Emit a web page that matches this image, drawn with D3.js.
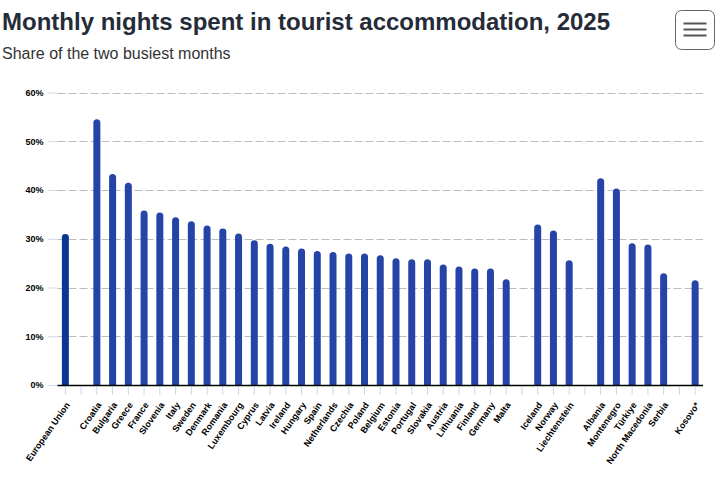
<!DOCTYPE html>
<html>
<head>
<meta charset="utf-8">
<script src="https://cdn.jsdelivr.net/npm/d3@7"></script>
<style>
  body { margin: 0; background: #fff; }
  text { font-family: "Liberation Sans", Arial, sans-serif; }
</style>
</head>
<body>
<div id="container"></div>
<script>
/* CONSTANTS AND GLOBALS */
const width = 720,
  height = 493;

// empty strings are the gaps between country groups
const categories = ["European Union", "",
  "Croatia", "Bulgaria", "Greece", "France", "Slovenia", "Italy", "Sweden", "Denmark",
  "Romania", "Luxembourg", "Cyprus", "Latvia", "Ireland", "Hungary", "Spain", "Netherlands",
  "Czechia", "Poland", "Belgium", "Estonia", "Portugal", "Slovakia", "Austria", "Lithuania",
  "Finland", "Germany", "Malta", "",
  "Iceland", "Norway", "Liechtenstein", "",
  "Albania", "Montenegro", "Türkiye", "North Macedonia", "Serbia", "",
  "Kosovo*"];

const values = [31.0, null,
  54.5, 43.3, 41.5, 35.8, 35.4, 34.4, 33.6, 32.7,
  32.1, 31.1, 29.7, 29.0, 28.4, 28.0, 27.5, 27.3,
  27.0, 27.0, 26.6, 26.0, 25.8, 25.8, 24.7, 24.3,
  23.9, 23.9, 21.7, null,
  32.9, 31.7, 25.6, null,
  42.4, 40.3, 29.1, 28.8, 22.9, null,
  21.5];

const yTicks = [0, 10, 20, 30, 40, 50, 60];

const plot = { left: 57.5, right: 703, top: 92.5, bottom: 385 };

const data = categories.map((c, i) => ({ key: i, name: c, value: values[i] }));

/* SCALES */
const xScale = d3.scaleBand()
  .domain(data.map(d => d.key))
  .range([plot.left, plot.right]);

const yScale = d3.scaleLinear()
  .domain([0, 60])
  .range([plot.bottom, plot.top]);

/* SVG */
const svg = d3.select("#container")
  .append("svg")
  .attr("width", width)
  .attr("height", height);

// Title and subtitle
svg.append("text")
  .attr("x", 2)
  .attr("y", 29.5)
  .attr("fill", "#262b38")
  .style("font-size", "24px")
  .style("font-weight", "bold")
  .text("Monthly nights spent in tourist accommodation, 2025");

svg.append("text")
  .attr("x", 2)
  .attr("y", 58.5)
  .attr("fill", "#333")
  .style("font-size", "16px")
  .text("Share of the two busiest months");

// Menu button
const menu = svg.append("g");
menu.append("rect")
  .attr("x", 675.5).attr("y", 10.5)
  .attr("width", 39).attr("height", 39)
  .attr("rx", 6)
  .attr("fill", "#fff")
  .attr("stroke", "#666")
  .attr("stroke-width", 1);
menu.selectAll("line")
  .data([23.5, 29.5, 35.5])
  .join("line")
  .attr("x1", 683.5).attr("x2", 706.5)
  .attr("y1", d => d).attr("y2", d => d)
  .attr("stroke", "#555")
  .attr("stroke-width", 2);

// Gridlines
svg.append("g")
  .selectAll("line")
  .data(yTicks.filter(d => d > 0))
  .join("line")
  .attr("x1", plot.left)
  .attr("x2", plot.right)
  .attr("y1", d => Math.round(yScale(d)) + 0.5)
  .attr("y2", d => Math.round(yScale(d)) + 0.5)
  .attr("stroke", "#bdbdbd")
  .attr("stroke-dasharray", "8,3");

// Y axis
const yAxis = d3.axisLeft(yScale)
  .tickValues(yTicks)
  .tickSize(9)
  .tickPadding(5)
  .tickFormat(d => d + "%");

svg.append("g")
  .attr("transform", `translate(${plot.left},0)`)
  .call(yAxis)
  .call(g => g.select(".domain").remove())
  .call(g => g.selectAll(".tick line").attr("stroke", "#ccd6eb"))
  .call(g => g.selectAll(".tick text")
    .attr("fill", "#000")
    .style("font-size", "9px")
    .style("font-weight", "bold")
    .style("font-family", "'Liberation Sans', Arial, sans-serif"));

// Bars with rounded tops
const bw = 7, r = 3.5;
svg.append("g")
  .selectAll("path")
  .data(data.filter(d => d.value !== null))
  .join("path")
  .attr("d", d => {
    const cx = xScale(d.key) + xScale.bandwidth() / 2;
    const x0 = cx - bw / 2, x1 = cx + bw / 2;
    const yb = yScale(0), yt = yScale(d.value);
    return `M${x0},${yb}L${x0},${yt + r}A${r},${r} 0 0 1 ${x1},${yt + r}L${x1},${yb}Z`;
  })
  .attr("fill", d => d.name === "European Union" ? "#0a3596" : "#2644a7");

// X axis
const xAxis = d3.axisBottom(xScale)
  .tickSize(10)
  .tickFormat(k => categories[k]);

svg.append("g")
  .attr("transform", `translate(0,${plot.bottom})`)
  .call(xAxis)
  .call(g => g.select(".domain")
    .attr("d", `M${plot.left},0.5H${plot.right}`)
    .attr("stroke", "#000")
    .attr("stroke-width", 1.5))
  .call(g => g.selectAll(".tick line").attr("stroke", "#ccd6eb").attr("y1", 2))
  .call(g => g.selectAll(".tick text")
    .attr("fill", "#000")
    .attr("text-anchor", "end")
    .attr("y", 0)
    .attr("dy", 0)
    .attr("transform", "translate(5,20) rotate(-55)")
    .style("font-size", "9px")
    .style("font-weight", "bold")
    .style("font-family", "'Liberation Sans', Arial, sans-serif"));
</script>
</body>
</html>
